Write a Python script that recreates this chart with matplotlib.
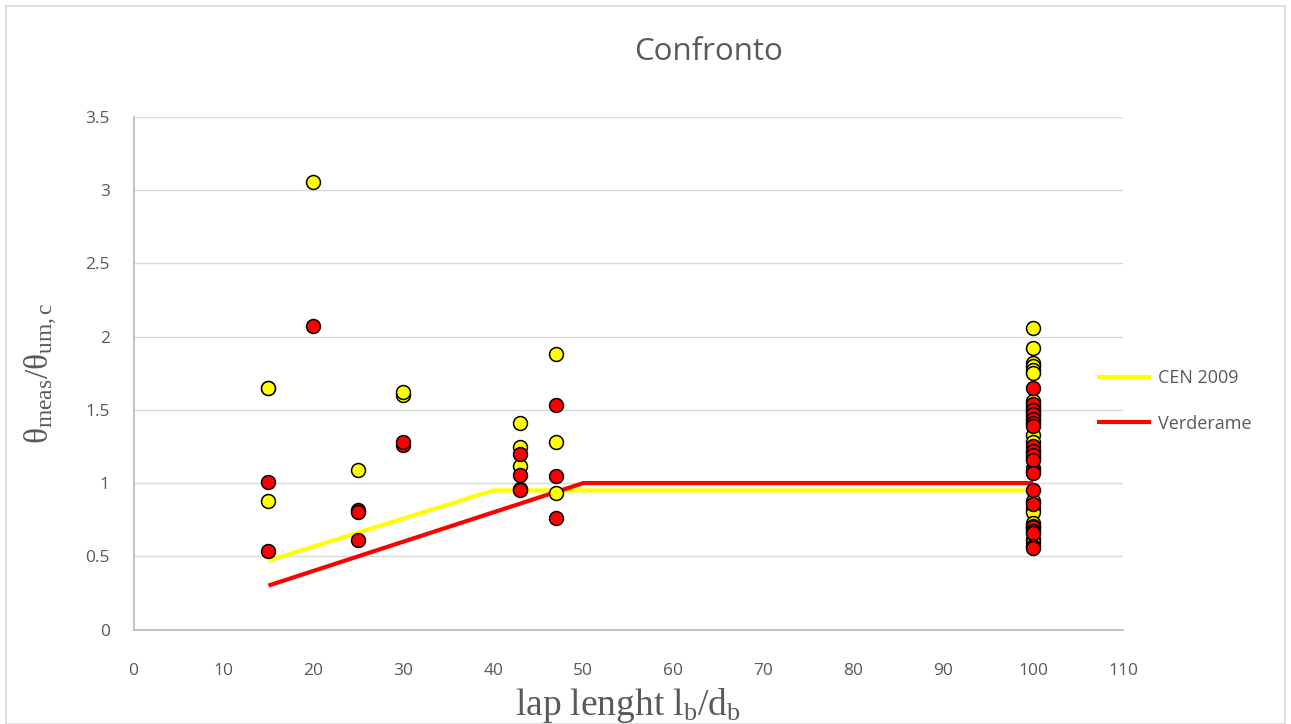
import matplotlib
matplotlib.use("Agg")
import matplotlib.pyplot as plt
from matplotlib.patches import Rectangle

# ---- data ----
cen_x = [15, 15, 15, 20, 25, 30, 30, 43, 43, 43, 43, 47, 47, 47,
         100, 100, 100, 100, 100, 100, 100, 100, 100, 100, 100, 100, 100,
         100, 100, 100, 100, 100, 100, 100, 100, 100, 100, 100, 100]
cen_y = [1.65, 0.878, 1.65, 3.058, 1.091, 1.60, 1.619, 1.41, 1.244, 1.114, 0.96, 1.88, 1.278, 0.932,
         2.06, 1.92, 1.82, 1.80, 1.77, 1.75, 1.56, 1.52, 1.49, 1.46, 1.43, 1.33, 1.28,
         1.21, 1.17, 1.10, 1.08, 0.88, 0.83, 0.80, 0.73, 0.71, 0.69, 0.62, 0.60]
ver_x = [15, 15, 20, 25, 25, 25, 30, 30, 43, 43, 43, 47, 47, 47,
         100, 100, 100, 100, 100, 100, 100, 100, 100, 100, 100, 100, 100,
         100, 100, 100, 100, 100, 100]
ver_y = [1.007, 0.539, 2.076, 0.815, 0.80, 0.609, 1.26, 1.278, 1.20, 1.057, 0.955, 1.535, 1.046, 0.76,
         1.65, 1.54, 1.50, 1.47, 1.44, 1.41, 1.39, 1.25, 1.22, 1.19, 1.16, 1.07, 0.95,
         0.86, 0.70, 0.67, 0.66, 0.57, 0.56]

cen_line_x = [15, 40, 100]
cen_line_y = [0.47, 0.95, 0.95]
ver_line_x = [15, 50, 100]
ver_line_y = [0.30, 1.0, 1.0]

x_ticks = list(range(0, 111, 10))
y_ticks = [0, 0.5, 1, 1.5, 2, 2.5, 3, 3.5]
y_tick_labels = ["0", "0.5", "1", "1.5", "2", "2.5", "3", "3.5"]

plt.rcParams['mathtext.fontset'] = 'custom'
plt.rcParams['mathtext.rm'] = 'Liberation Serif'
plt.rcParams['mathtext.it'] = 'Liberation Serif:italic'

W, H = 1291, 724
fig = plt.figure(figsize=(W / 100, H / 100), dpi=100)
ax = fig.add_axes([133.5 / W, 1 - 629.5 / H, (1123 - 133.5) / W, (629.5 - 117) / H])

gray_txt = '#595959'
grid_c = '#D9D9D9'
spine_c = '#BFBFBF'

ax.plot(cen_line_x, cen_line_y, color='#FFFF00', lw=3, solid_capstyle='butt', zorder=2, label='CEN 2009')
ax.plot(ver_line_x, ver_line_y, color='#FF0000', lw=3, solid_capstyle='butt', zorder=2, label='Verderame')
ax.plot(cen_x, cen_y, 'o', ms=10, mfc='#FFFF00', mec='black', mew=1.1, zorder=3)
ax.plot(ver_x, ver_y, 'o', ms=10, mfc='#FF0000', mec='black', mew=1.1, zorder=4)

ax.set_xlim(0, 110)
ax.set_ylim(0, 3.5)
ax.set_xticks(x_ticks)
ax.set_yticks(y_ticks)
ax.set_yticklabels(y_tick_labels)
ax.tick_params(length=0, labelsize=12.5, labelcolor=gray_txt)
ax.tick_params(axis='x', pad=24)
ax.tick_params(axis='y', pad=17)
for lab in ax.get_xticklabels() + ax.get_yticklabels():
    lab.set_family('Open Sans')
ax.grid(axis='y', color=grid_c, lw=1)
ax.set_axisbelow(True)
for s in ['right', 'top']:
    ax.spines[s].set_visible(False)
for s in ['left', 'bottom']:
    ax.spines[s].set_color(spine_c)
    ax.spines[s].set_linewidth(1.3)

fig.text(709 / W, 1 - 52 / H, 'Confronto', fontsize=22.5, color=gray_txt, family='Open Sans',
         ha='center', va='center')
ax.set_xlabel(r'$\mathrm{lap\ lenght\ l_b/d_b}$', fontsize=27, color=gray_txt, labelpad=5)
ax.set_ylabel(r'$\mathrm{θ_{meas}/θ_{um,c}}$', fontsize=24, color=gray_txt, labelpad=18)

leg = ax.legend(loc='center left', bbox_to_anchor=(1097 / W, 1 - 401 / H), bbox_transform=fig.transFigure,
                frameon=False, prop={'family': 'Open Sans', 'size': 13}, handlelength=3.0,
                handletextpad=0.4, labelspacing=1.5, borderaxespad=0, borderpad=0)
for t in leg.get_texts():
    t.set_color(gray_txt)

fig.patches.append(Rectangle((6 / W, 0), 1 - 12 / W, 1 - 6 / H, transform=fig.transFigure,
                             fill=False, edgecolor=grid_c, lw=1.2))

fig.savefig('out.png', dpi=100)
